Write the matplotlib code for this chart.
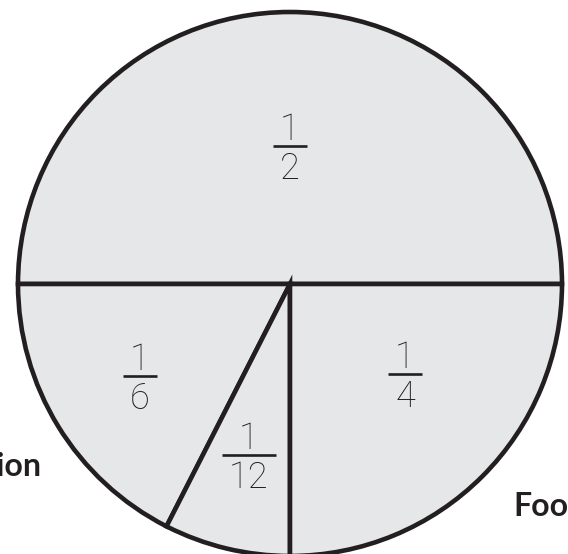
import matplotlib
matplotlib.use("Agg")
import matplotlib.pyplot as plt
import numpy as np

# ---- data ----
categories = ["Housing", "Transportation", "Clothing", "Food"]
shares = [0.5, 0.175, 0.075, 0.25]
numerators = ["1", "1", "1", "1"]
denominators = ["2", "6", "12", "4"]
show_category = [False, True, False, True]

# ---- style / layout ----
FILL = "#e6e7e8"
INK = "#231f20"
W, H, DPI = 568, 554, 100
CX, CY, RPX = 290, 284, 272          # pie centre and radius in pixels
frac_dist = [0.507, 0.648, 0.647, 0.537]
frac_angle_shift = [0.0, 0.0, 0.0, 7.0]
cat_anchor = {1: (-0.912, -0.706, "right"), 3: (0.820, -0.853, "left")}

fig = plt.figure(figsize=(W / DPI, H / DPI), dpi=DPI)
ax = fig.add_axes([0, 0, 1, 1])
wedges, _ = ax.pie(shares, startangle=0, counterclock=True, radius=1.0,
                   colors=[FILL] * len(shares),
                   wedgeprops=dict(edgecolor=INK, linewidth=3.3, joinstyle="miter"))
ax.set_xlim(-CX / RPX, (W - CX) / RPX)
ax.set_ylim(-(H - CY) / RPX, CY / RPX)
ax.set_aspect("equal", adjustable="box")
ax.axis("off")

px = 1.0 / RPX
fkw = dict(family="Roboto", fontweight="light", fontsize=26, color=INK, ha="center", va="baseline")
dens = []
centers = []
for i, w in enumerate(wedges):
    mid = np.deg2rad((w.theta1 + w.theta2) / 2 + frac_angle_shift[i])
    x = frac_dist[i] * np.cos(mid)
    y = frac_dist[i] * np.sin(mid)
    centers.append((x, y))
    ax.text(x, y + 6 * px, numerators[i], **fkw)
    dens.append(ax.text(x, y - 33 * px, denominators[i], **fkw))

fig.canvas.draw()
r = fig.canvas.get_renderer()
for (x, y), t in zip(centers, dens):
    wpx = t.get_window_extent(r).width
    half = (wpx / 2 + 7) * px
    ax.plot([x - half, x + half], [y, y], color=INK, lw=1.9, solid_capstyle="butt")

for i, cat in enumerate(categories):
    if show_category[i]:
        x, y, ha = cat_anchor[i]
        ax.text(x, y, cat, family="Lato", fontweight="bold", fontsize=23,
                color=INK, ha=ha, va="baseline")

fig.savefig("out.png", dpi=DPI)
